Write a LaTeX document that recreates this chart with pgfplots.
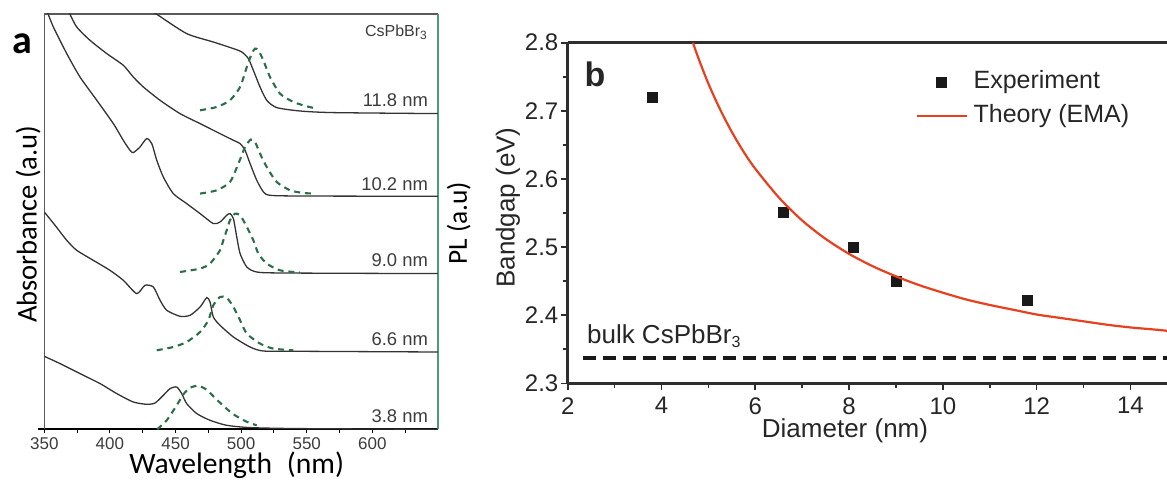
\documentclass[border=0pt]{standalone}
\usepackage{fontspec}
\usepackage{pgfplots}
\pgfplotsset{compat=1.18}
\setmainfont{Liberation Sans}
\newfontfamily\carlito{Carlito}

\definecolor{absgray}{HTML}{333333}
\definecolor{plgreen}{HTML}{2B6E48}
\definecolor{framegreen}{HTML}{4E9A78}
\definecolor{framegray}{HTML}{5A5A5A}
\definecolor{emared}{HTML}{E8401F}
\definecolor{txtgray}{HTML}{3C3C3C}

\pgfplotsset{
  absline/.style={color=absgray, line width=0.65pt, smooth, tension=0.4, forget plot},
  plline/.style={color=plgreen, line width=1.05pt, dash pattern=on 3pt off 2.4pt, smooth, tension=0.4, forget plot},
}

\begin{document}
\begin{tikzpicture}
\path[use as bounding box] (0,0) rectangle (583.5pt,241pt);

% ---------------- (a) absorbance and PL spectra ----------------
\begin{axis}[
  at={(22.15pt,26.35pt)}, anchor=south west,
  scale only axis, width=196.85pt, height=207.65pt,
  xmin=350, xmax=650, ymin=0, ymax=415.3,
  axis x line*=bottom, axis y line*=left,
  x axis line style={black, line width=1pt, shorten <=-3pt},
  y axis line style={framegray, line width=0.55pt},
  ytick=\empty,
  xtick={350,400,450,500,550,600},
  minor xtick={375,425,475,525,575,625},
  tick align=outside, major tick length=2pt, minor tick length=2pt,
  every tick/.style={black, line width=0.5pt},
  xticklabel style={font=\fontsize{8.5pt}{10pt}\selectfont, text=txtgray, inner ysep=1.8pt, text depth=0pt},
  /pgf/number format/assume math mode=true,
  clip mode=individual,
]
% frame: grey top, green right
\draw[framegray, line width=0.55pt] (rel axis cs:0,1) -- (rel axis cs:1,1);
\draw[framegreen, line width=0.7pt] (rel axis cs:1,0) -- (rel axis cs:1,1);

% 11.8 nm
\addplot[absline] coordinates {(425,424)(435.7,415)(458.5,395.7)(478.8,387.3)(494.1,380.7)(500.5,377.3)(505.5,370.7)(509.3,359)(514.4,342.3)(519.5,329)(527.1,321.7)(544.9,318.3)(570,316.7)(650,315.7)};
\addplot[plline] coordinates {(468.7,319)(481.4,322.3)(491.5,329)(499.2,342.3)(504.3,362.3)(508.1,375.7)(510.6,380.7)(513.1,379)(516.9,369)(522,352.3)(529.6,335.7)(539.8,327.3)(550,323)(557.6,320.7)};
% 10.2 nm
\addplot[absline] coordinates {(366,425)(369.6,415)(374.7,402.3)(384.8,389)(397.6,375.7)(410.2,364)(417.8,352.3)(425.5,342.3)(438.2,329)(453.4,315.7)(468.7,305.7)(481.4,297.3)(494.1,289)(499.2,285.7)(503,279)(506.8,265.7)(511.9,249)(517,237.3)(522,234)(544.9,233.3)(650,233)};
\addplot[plline] coordinates {(468.7,235.7)(481.4,239)(491.5,247.3)(497.9,265.7)(503,282.3)(507.3,289.7)(510.6,287.3)(514.4,275.7)(519.5,262.3)(527.1,247.3)(537.3,239)(547.4,236.3)(556.4,235.7)};
% 9.0 nm
\addplot[absline] coordinates {(350,425)(353,415)(356.9,402.3)(367.1,375.7)(377.2,352.3)(390,329)(402.6,305.7)(410.2,289)(415.3,279)(417.8,276.7)(422.9,282.3)(428,290.7)(431.9,285.7)(435.7,269)(440.7,252.3)(448.3,235.7)(458.5,225.7)(468.7,215.7)(478.8,205.7)(483.9,207.3)(489,214)(491.5,215.7)(494.1,210.7)(496.7,192)(499.2,175.7)(504.3,162.3)(511.9,157.3)(532.2,156.3)(650,155.7)};
\addplot[plline] coordinates {(453.4,157.3)(468.7,160.7)(476.3,165.7)(483.9,179)(486.4,189)(489,199)(491.5,209)(495.3,215.7)(499.2,214)(503,205.7)(509.3,189)(513.1,175.7)(519.5,165.7)(529.6,159)(544.9,156.7)};
% 6.6 nm
\addplot[absline] coordinates {(350,217.3)(358.2,204)(367.1,189)(374.7,179)(387.3,169)(400,159)(410.2,149)(420.4,135.7)(426.7,144)(433.1,142.3)(438.2,129)(443.3,119)(453.4,113)(461.1,114)(468.7,122.3)(473.8,131.7)(476.3,127.3)(478.8,112.3)(483.9,104)(494.1,92.3)(506.8,82.3)(516.9,78.3)(544.9,78)(650,77.3)};
\addplot[plline] coordinates {(435.7,79)(448.3,82.3)(458.5,87.3)(468.7,97.3)(475,109)(478.8,124)(483.9,132.3)(489,131.7)(494.1,122.3)(499.2,109)(504.3,95.7)(514.4,85.7)(524.5,80.7)(539.8,79)};
% 3.8 nm
\addplot[absline] coordinates {(350,73)(362,65.7)(377.2,55.7)(392.5,45.7)(405.2,35.7)(417.8,27.3)(428,25)(434.4,26.3)(440.7,34)(445.8,40.7)(450.9,42.3)(454.7,35.7)(458.5,25.7)(466.2,15.7)(476.3,9)(489,4)(506.8,1.7)(544.9,0.7)(650,0)};
\addplot[plline] coordinates {(436,0)(443.3,9)(450.9,24)(456,35)(461.1,41.5)(467.4,43.6)(473.8,39.5)(478.8,33)(486.4,23.5)(494.1,15)(504.3,7.5)(511.9,4)};

% size labels
\begin{scope}[every node/.style={anchor=base east, inner sep=0pt, text=txtgray, font=\fontsize{9.2pt}{11pt}\selectfont}]
\node at (axis cs:642.6,322.3) {11.8 nm};
\node at (axis cs:642.6,239) {10.2 nm};
\node at (axis cs:642.6,163) {9.0 nm};
\node at (axis cs:642.6,84) {6.6 nm};
\node at (axis cs:642.6,7.3) {3.8 nm};
\node[font=\fontsize{8pt}{10pt}\selectfont] at (axis cs:642.6,392.3) {CsPbBr\textsubscript{3}};
\end{scope}

% axis titles
\node[rotate=90, anchor=center, inner sep=0pt, font=\carlito\fontsize{14.3pt}{17pt}\selectfont] at (rel axis cs:-0.041,0.494) {Absorbance (a.u)};
\node[rotate=90, anchor=center, inner sep=0pt, font=\carlito\fontsize{13.7pt}{16pt}\selectfont] at (rel axis cs:1.053,0.496) {PL (a.u)};
\node[anchor=base, inner sep=0pt, font=\carlito\fontsize{14.8pt}{18pt}\selectfont] at (rel axis cs:0.4887,-0.106) {Wavelength\enspace(nm)};
\node[anchor=base west, inner sep=0pt, font=\carlito\bfseries\fontsize{20pt}{23pt}\selectfont] at (rel axis cs:-0.082,0.906) {a};
\end{axis}

% ---------------- (b) bandgap versus diameter ----------------
\begin{axis}[
  at={(283.85pt,49.35pt)}, anchor=south west,
  scale only axis, width=299.65pt, height=170.3pt,
  xmin=2, xmax=14.78, ymin=2.3, ymax=2.8,
  axis x line*=bottom, axis y line*=left,
  axis line style={black!82, line width=1.3pt},
  xtick={2,4,6,8,10,12,14}, minor xtick={3,5,7,9,11,13},
  ytick={2.3,2.4,2.5,2.6,2.7,2.8}, minor ytick={2.35,2.45,2.55,2.65,2.75},
  tick align=outside, major tick length=3.5pt, minor tick length=2.2pt,
  every tick/.style={black!82, line width=0.8pt},
  tick label style={font=\fontsize{12pt}{14pt}\selectfont, text=black!85},
  yticklabel style={inner xsep=1pt, /pgf/number format/.cd, fixed, precision=1, fixed zerofill},
  /pgf/number format/assume math mode=true,
  xlabel={Diameter (nm)}, ylabel={Bandgap (eV)},
  label style={font=\fontsize{13pt}{15pt}\selectfont, text=black!85},
  xlabel style={at={(axis description cs:0.4627,-0.1606)}, anchor=base},
  ylabel style={at={(axis description cs:-0.0996,0.516)}, anchor=center, rotate=0},
  clip mode=individual,
  legend cell align=left,
  legend image code/.code={\draw[mark repeat=2,mark phase=2,#1] plot coordinates {(0pt,0pt)(12.5pt,0pt)(25pt,0pt)};},
  legend style={draw=none, fill=none, at={(0.5795,0.919)}, anchor=north west,
    inner sep=0pt, row sep=5pt,
    font=\fontsize{12.5pt}{15pt}\selectfont, text=black!85,
    nodes={inner xsep=3pt, inner ysep=0pt, text height=9pt, text depth=2.7pt}},
]
\draw[black!82, line width=1.3pt] (rel axis cs:0,1) -- (rel axis cs:1,1);

\addplot[only marks, mark=square*, mark size=2.5pt, color=black!90] coordinates {
  (3.8,2.719) (6.6,2.551) (8.1,2.500) (9.0,2.450) (11.8,2.422)
};
\addlegendentry{Experiment}

\addplot[color=emared, line width=1.1pt, smooth, tension=0.5] coordinates {
  (4.67,2.800) (4.8,2.775) (5.0,2.740) (5.25,2.702) (5.5,2.669) (5.75,2.640)
  (6.0,2.615) (6.5,2.573) (7.0,2.539) (7.5,2.512) (8.0,2.490) (8.5,2.472)
  (9.0,2.457) (9.5,2.444) (10.0,2.433) (10.5,2.423) (11.0,2.415) (11.5,2.408)
  (12.0,2.401) (12.5,2.396) (13.0,2.391) (13.5,2.386) (14.0,2.382) (14.5,2.379)
  (14.8,2.377)
};
\addlegendentry{Theory (EMA)}

% bulk band gap
\addplot[forget plot, black!90, line width=1.6pt, dash pattern=on 6.4pt off 3.6pt] coordinates {(2.32,2.337) (14.8,2.337)};
\node[anchor=base west, inner sep=0pt, font=\fontsize{13pt}{15pt}\selectfont, text=black!85] at (axis cs:2.405,2.358) {bulk CsPbBr{\fontsize{8pt}{9pt}\selectfont\raisebox{-0.45ex}{3}}};

\node[anchor=base west, inner sep=0pt, font=\bfseries\fontsize{17pt}{20pt}\selectfont, text=black!85] at (axis cs:2.35,2.735) {b};
\end{axis}
\end{tikzpicture}
\end{document}
